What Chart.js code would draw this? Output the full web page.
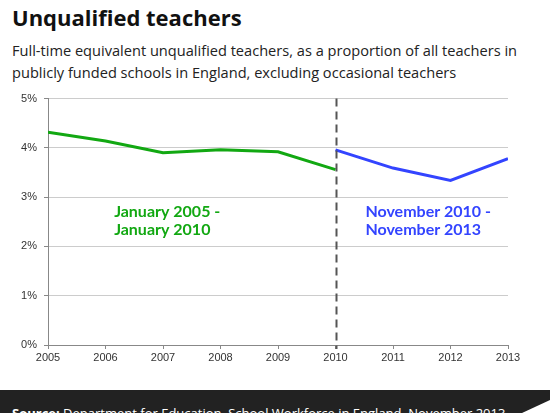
<!DOCTYPE html>
<html>
<head>
<meta charset="utf-8">
<script src="https://cdn.jsdelivr.net/npm/chart.js@4"></script>
<style>
  html, body { margin: 0; padding: 0; background: #fff; }
  body { width: 550px; height: 413px; position: relative; overflow: hidden; font-family: "Open Sans", Lato, sans-serif; }
  #title { position: absolute; left: 12px; top: 2px; font-size: 22px; font-weight: bold; color: #111; }
  #subtitle { position: absolute; left: 12px; top: 39px; width: 530px; font-size: 14.6px; line-height: 22px; color: #222; }
  #chartbox { position: absolute; left: 0; top: 85px; width: 550px; height: 290px; }
  #footer { position: absolute; left: 0; top: 390px; width: 550px; height: 23px; background: #222; overflow: hidden; }
  #footer span { position: absolute; left: 12px; top: 14px; color: #fff; font-size: 13px; white-space: nowrap; }
  #tri { position: absolute; right: 0; bottom: 0; width: 0; height: 0; border-left: 28px solid transparent; border-bottom: 13px solid #fff; }
</style>
</head>
<body>
<div id="title">Unqualified teachers</div>
<div id="subtitle">Full-time equivalent unqualified teachers, as a proportion of all teachers in<br>publicly funded schools in England, excluding occasional teachers</div>
<div id="chartbox"><canvas id="c"></canvas></div>
<div id="footer"><span><b>Source:</b> Department for Education, School Workforce in England, November 2013</span><div id="tri"></div></div>
<script>
const years = [2005, 2006, 2007, 2008, 2009, 2010, 2011, 2012, 2013];
const janSeries = [4.32, 4.14, 3.90, 3.96, 3.92, 3.56, null, null, null];
const novSeries = [null, null, null, null, null, 3.96, 3.59, 3.34, 3.78];
const yTicks = [0, 1, 2, 3, 4, 5];
const breakYear = 2010;
const janLabel = ["January 2005 -", "January 2010"];
const novLabel = ["November 2010 -", "November 2013"];
const janLabelPos = { x: 2006.15, y: 2.71 };
const novLabelPos = { x: 2010.52, y: 2.71 };

const GREEN = '#12a812';
const BLUE = '#3344ff';

const toPoints = (vals) => years.map((y, i) => ({ x: y, y: vals[i] }));

const overlay = {
  id: 'overlay',
  afterDatasetsDraw(chart) {
    const { ctx, scales: { x, y }, chartArea } = chart;
    ctx.save();
    const px = Math.round(x.getPixelForValue(breakYear)) + 0.5;
    ctx.strokeStyle = '#555';
    ctx.lineWidth = 2;
    ctx.setLineDash([8, 5]);
    ctx.beginPath();
    ctx.moveTo(px, chartArea.top);
    ctx.lineTo(px, chartArea.bottom + 4);
    ctx.stroke();
    ctx.setLineDash([]);
    ctx.font = 'bold 16px Lato, "Open Sans", sans-serif';
    ctx.textBaseline = 'middle';
    ctx.textAlign = 'left';
    const drawLabel = (lines, pos, color) => {
      ctx.fillStyle = color;
      const lx = x.getPixelForValue(pos.x);
      const ly = y.getPixelForValue(pos.y);
      lines.forEach((t, i) => ctx.fillText(t, lx, ly + i * 18));
    };
    drawLabel(janLabel, janLabelPos, GREEN);
    drawLabel(novLabel, novLabelPos, BLUE);
    ctx.restore();
  }
};

new Chart(document.getElementById('c'), {
  type: 'line',
  data: {
    datasets: [
      { data: toPoints(janSeries), borderColor: GREEN, borderWidth: 3, pointRadius: 0, spanGaps: false, tension: 0 },
      { data: toPoints(novSeries), borderColor: BLUE, borderWidth: 3, pointRadius: 0, spanGaps: false, tension: 0 }
    ]
  },
  options: {
    responsive: true,
    maintainAspectRatio: false,
    animation: false,
    layout: { padding: { top: 13, right: 42, left: 0, bottom: 0 } },
    plugins: { legend: { display: false }, tooltip: { enabled: false } },
    scales: {
      x: {
        type: 'linear',
        min: years[0],
        max: years[years.length - 1],
        afterBuildTicks: (s) => { s.ticks = years.map(v => ({ value: v })); },
        afterFit: (s) => { s.height = 30; },
        ticks: {
          callback: (v) => String(v),
          color: '#333',
          font: { family: '"Liberation Sans", Arial, sans-serif', size: 11 },
          padding: 2,
          maxRotation: 0,
          autoSkip: false
        },
        grid: { drawOnChartArea: false, drawTicks: true, tickLength: 4, color: '#888' },
        border: { color: '#888', width: 1 }
      },
      y: {
        min: 0,
        max: 5,
        afterBuildTicks: (s) => { s.ticks = yTicks.map(v => ({ value: v })); },
        afterFit: (s) => { s.width = 48; },
        ticks: {
          callback: (v) => v + '%',
          color: '#333',
          font: { family: '"Liberation Sans", Arial, sans-serif', size: 11 },
          padding: 7
        },
        grid: { color: '#cccccc', lineWidth: 1, tickLength: 4, tickColor: '#888' },
        border: { color: '#888', width: 1 }
      }
    }
  },
  plugins: [overlay]
});
</script>
</body>
</html>
